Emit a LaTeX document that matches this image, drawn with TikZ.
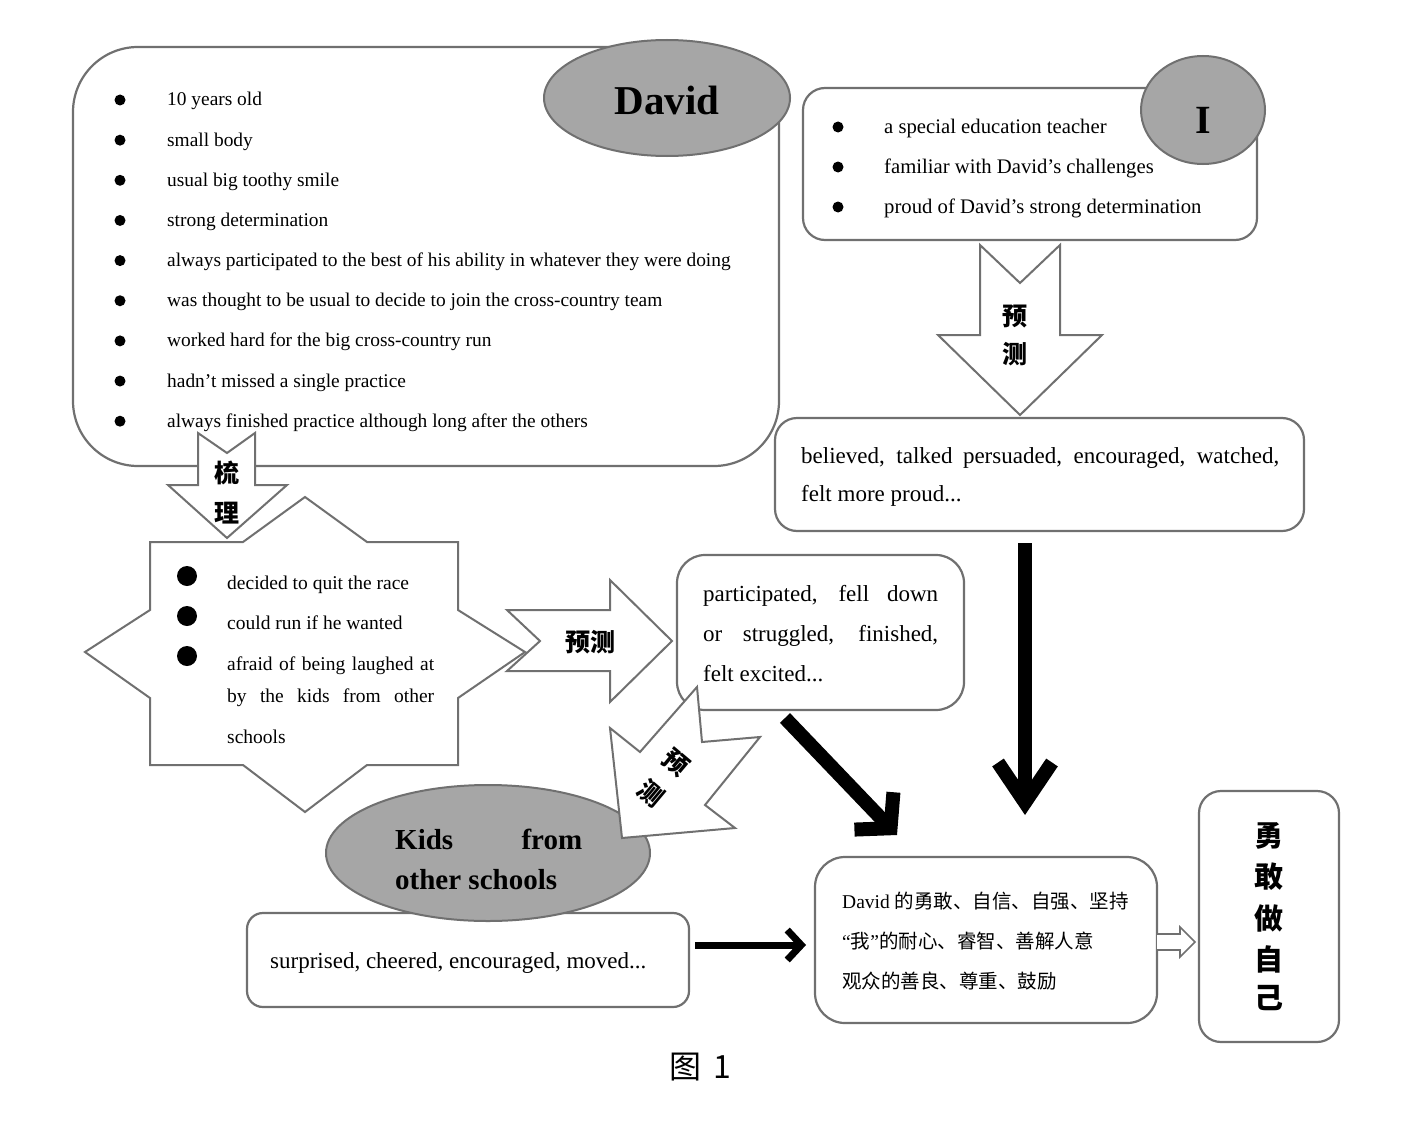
\documentclass[tikz,border=0pt]{standalone}
\usepackage{fontspec}
\setmainfont{Liberation Serif}
\newfontfamily\cjk{Noto Sans CJK SC}
\usetikzlibrary{shapes.geometric,arrows.meta}
\definecolor{edge}{RGB}{112,112,112}
\definecolor{ellfill}{RGB}{166,166,166}
\newcommand\myfs[1]{\fontsize{#1}{#1}\selectfont}
\begin{document}
\begin{tikzpicture}[x=1pt,y=-1pt,
  box/.style={draw=edge,line width=2.2pt,fill=white,inner sep=0pt},
  ell/.style={ellipse,draw=edge,line width=2pt,fill=ellfill,inner sep=0pt},
  shp/.style={draw=edge,line width=2pt,fill=white,line join=miter},
  lbl/.style={inner sep=0pt,anchor=base west},
  dot/.style={circle,fill=black,inner sep=0pt,minimum size=#1},
  dot/.default=11pt,
  cjklbl/.style={inner sep=0pt,font=\cjk\bfseries\myfs{25}},
  bigarrow/.style={line width=14pt,-{Straight Barb[length=40pt,width=54pt]}},
  midarrow/.style={line width=7pt,-{Straight Barb[length=14pt,width=30pt]}},
]
\fill[white] (0,0) rectangle (1415,1121);
\useasboundingbox (0,0) rectangle (1415,1121);

% ---- David box
\node[box,rounded corners=65pt,minimum width=706pt,minimum height=419pt] (davidbox) at (426,256.5) {};
\node[ell,minimum width=246pt,minimum height=116pt] (davidell) at (667,98) {};
\node[inner sep=0pt,anchor=base,font=\bfseries\myfs{41}] (davidt) at (667,115) {David};
\foreach \t [count=\i] in {10 years old,small body,usual big toothy smile,strong determination,always participated to the best of his ability in whatever they were doing,was thought to be usual to decide to join the cross-country team,worked hard for the big cross-country run,hadn’t missed a single practice,always finished practice although long after the others}{
  \node[dot] (db\i) at (120,{100+40.15*(\i-1)}) {};
  \node[lbl,font=\myfs{19.4}] (dt\i) at (167,{106+40.15*(\i-1)}) {\t};
}

% ---- I box
\node[box,rounded corners=22pt,minimum width=454pt,minimum height=152pt] (ibox) at (1030,164) {};
\node[ell,minimum width=124pt,minimum height=108pt] (iell) at (1203,110) {};
\node[inner sep=0pt,anchor=base,font=\bfseries\myfs{40}] (it) at (1203,133) {I};
\foreach \t [count=\i] in {a special education teacher,familiar with David’s challenges,proud of David’s strong determination}{
  \node[dot] (ib\i) at (838,{127+40*(\i-1)}) {};
  \node[lbl,font=\myfs{20.7}] (itx\i) at (884,{133+40*(\i-1)}) {\t};
}

% ---- down arrow (I -> believed)
\draw[shp] (980,245) -- (1020,283) -- (1060,245) -- (1060,335) -- (1102,335) -- (1020,415) -- (938,335) -- (980,335) -- cycle;
\node[cjklbl] (yc1) at (1015,316) {预};
\node[cjklbl] (yc2) at (1015,354) {测};

% ---- believed box
\node[box,rounded corners=22pt,minimum width=529pt,minimum height=113pt] (believed) at (1039.5,474.5) {};
\node[lbl,font=\myfs{23}] (bt1) at (801,463) {\makebox[478pt][s]{believed, talked persuaded, encouraged, watched,}};
\node[lbl,font=\myfs{23}] (bt2) at (801,501) {felt more proud...};

% ---- star
\draw[shp] (150,542) -- (243,542) -- (305,497) -- (367,542) -- (458,542) -- (458,610) -- (525,652) -- (458,698) -- (458,765) -- (367,765) -- (305,812) -- (243,765) -- (150,765) -- (150,698) -- (85,652) -- (150,610) -- cycle;
\foreach \i/\y in {1/576,2/616,3/656}{
  \node[dot=20pt] (sb\i) at (187,\y) {};
}
\node[lbl,font=\myfs{19.5}] (st1) at (227,589) {decided to quit the race};
\node[lbl,font=\myfs{19.5}] (st2) at (227,629) {could run if he wanted};
\node[lbl,font=\myfs{19.5}] (st3) at (227,670) {\makebox[207pt][s]{afraid of being laughed at}};
\node[lbl,font=\myfs{19.5}] (st4) at (227,702) {\makebox[207pt][s]{by the kids from other}};
\node[lbl,font=\myfs{19.5}] (st5) at (227,743) {schools};

% ---- arrow 梳理 (David -> star)
\draw[shp] (198,433) -- (227,453) -- (255,433) -- (255,485) -- (287,485) -- (227,538) -- (168,485) -- (198,485) -- cycle;
\node[cjklbl] (sl1) at (227,473) {梳};
\node[cjklbl] (sl2) at (227,513) {理};

% ---- right arrow 预测 (star -> participated)
\draw[shp] (507,610) -- (610,610) -- (610,580) -- (672,641) -- (610,702) -- (610,671) -- (507,671) -- (540,641) -- cycle;
\node[cjklbl] (yr) at (590,642) {预测};

% ---- participated box
\node[box,rounded corners=28pt,minimum width=287pt,minimum height=155pt] (partic) at (820.5,632.5) {};
\node[lbl,font=\myfs{23}] (pt1) at (703,601) {\makebox[235pt][s]{participated, fell down}};
\node[lbl,font=\myfs{23}] (pt2) at (703,641) {\makebox[235pt][s]{or struggled, finished,}};
\node[lbl,font=\myfs{23}] (pt3) at (703,681) {felt excited...};

% ---- surprised box and kids ellipse
\node[box,rounded corners=16pt,minimum width=442pt,minimum height=94pt] (surpr) at (468,960) {};
\node[ell,minimum width=324pt,minimum height=136pt] (kidsell) at (488,853) {};
\node[lbl,font=\bfseries\myfs{29}] (kt1) at (395,849) {\makebox[187pt][s]{Kids from}};
\node[lbl,font=\bfseries\myfs{29}] (kt2) at (395,889) {other schools};
\node[lbl,font=\myfs{23}] (su) at (270,968) {surprised, cheered, encouraged, moved...};

% ---- rotated arrow 预测 (participated -> kids)
\draw[shp] (697,687) -- (702,742) -- (760,737) -- (705,805) -- (735,828) -- (622,838) -- (610,728) -- (640,752) -- cycle;
\node[cjklbl,rotate=-40] (yd1) at (676,763) {预};
\node[cjklbl,rotate=-40] (yd2) at (651,793) {测};

% ---- qualities box
\node[box,rounded corners=30pt,minimum width=342pt,minimum height=166pt] (qual) at (986,940) {};
\node[lbl,font=\myfs{19.5}] (q1) at (842,908) {David {\cjk 的勇敢、自信、自强、坚持}};
\node[lbl,font=\myfs{19.5}] (q2) at (842,948) {“{\cjk 我}”{\cjk 的耐心、睿智、善解人意}};
\node[lbl,font=\cjk\myfs{19.5}] (q3) at (842,988) {观众的善良、尊重、鼓励};

% ---- final box
\node[box,rounded corners=22pt,minimum width=140pt,minimum height=251pt] (final) at (1269,916.5) {};
\foreach \c/\y [count=\i] in {勇/836,敢/877,做/918,自/959,己/998}{
  \node[inner sep=0pt,font=\cjk\bfseries\myfs{29}] (f\i) at (1269,\y) {\c};
}

% ---- small hollow arrow (qualities -> final)
\draw[shp,line width=1.6pt] (1157,934) -- (1180,934) -- (1180,927) -- (1195,942) -- (1180,957) -- (1180,950) -- (1157,950);

% ---- black arrows
\coordinate (va) at (1025,543);
\coordinate (vb) at (1025,815);
\draw[bigarrow] (va) -- (vb);
\coordinate (da) at (785,718);
\coordinate (db) at (897,835);
\draw[bigarrow,-{Straight Barb[length=24pt,width=54pt]}] (da) -- (db);
\coordinate (ha) at (695,945);
\coordinate (hb) at (806,945);
\draw[midarrow] (ha) -- (hb);

% ---- caption
\node[inner sep=0pt,font=\cjk\myfs{32}] (cap) at (700,1067) {图\hspace{12pt}1};
\end{tikzpicture}
\end{document}
